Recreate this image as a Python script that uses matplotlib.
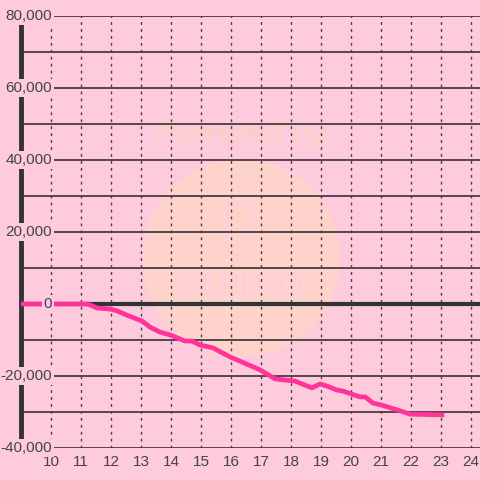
import matplotlib
matplotlib.use("Agg")
import matplotlib.pyplot as plt
import matplotlib.patches as patches
import matplotlib.transforms as mtransforms
import numpy as np

# data
hours = [9.0, 11.23, 11.53, 11.97, 12.2, 12.53, 12.87, 13.03, 13.3, 13.63, 13.97,
         14.47, 14.7, 14.97, 15.4, 15.97, 16.97, 17.47, 18.13, 18.7, 18.97,
         19.2, 19.53, 19.73, 20.3, 20.47, 20.73, 21.03, 21.53, 21.97, 23.03]
values = [0, 0, -1100, -1400, -1900, -3100, -4200, -4700, -6400, -7800, -8600,
          -10300, -10300, -11400, -12200, -14700, -18300, -20800, -21400, -23300, -22200,
          -22800, -23900, -24200, -25800, -25800, -27500, -28100, -29400, -30600, -30800]
x_ticks = list(range(10, 25))
y_ticks = [80000, 60000, 40000, 20000, 0, -20000, -40000]

bg = "#fecbdc"
dark = "#4a3a44"

fig = plt.figure(figsize=(4.8, 4.8), dpi=100, facecolor=bg)
ax = fig.add_axes([21/480, 1-448/480, 1-21/480, (448-16)/480])
ax.set_facecolor(bg)
ax.set_xlim(9, 24.3)
ax.set_ylim(-40000, 80000)

# watermark (behind grid)
circ = patches.Ellipse((241/480, 1-258/480), 198/480, 198/480, transform=fig.transFigure,
                       facecolor="#fdd3cc", edgecolor="none", zorder=0.5)
ax.add_patch(circ)
ax.text(242/480, 1-134/480, "Powered by", transform=fig.transFigure, ha="center",
        va="center", fontsize=22, fontweight="bold", style="italic",
        color="#f9cfca", zorder=0.6, family="Liberation Sans")
ax.text(242/480, 1-288/480, "PAPIMO", transform=fig.transFigure, ha="center",
        va="center", fontsize=24, color="#fccfd8", zorder=0.6, family="DejaVu Sans")
ax.add_patch(patches.FancyBboxPatch((228/480, 1-254/480), 25/480, 50/480,
             boxstyle="round,pad=0.003", transform=fig.transFigure,
             facecolor="none", edgecolor="#fccfd8", lw=1.5, zorder=0.6))

# grid
for yv in range(-40000, 80001, 10000):
    if yv == 0:
        continue
    ax.axhline(yv, color=dark, lw=1.3, zorder=1)
for xv in x_ticks:
    ax.axvline(xv, color=dark, lw=1.0, ls=(0, (2, 3)), zorder=1)
ax.axhline(0, color="#333333", lw=3, zorder=2)

ax.plot(hours, values, color="#ff3399", lw=3.4, zorder=3, solid_joinstyle="round")

for s in ["top", "right", "bottom"]:
    ax.spines[s].set_visible(False)
ax.spines["left"].set_color("#333333")
ax.spines["left"].set_linewidth(3.5)
ax.spines["left"].set_zorder(2)

ax.set_xticks([])
ax.set_yticks([])

trans = mtransforms.blended_transform_factory(fig.transFigure, ax.transData)
for yv in y_ticks:
    ax.text(52/480, yv, f"{yv:,}", transform=trans, ha="right", va="center",
            fontsize=11, color="#444444", family="Liberation Sans", zorder=5,
            bbox=dict(boxstyle="square,pad=0.1", facecolor=bg, edgecolor="none"),
            clip_on=False)

transx = mtransforms.blended_transform_factory(ax.transData, fig.transFigure)
for xv in x_ticks:
    ax.text(xv, 1-462/480, str(xv), transform=transx, ha="center", va="center",
            fontsize=11, color="#444444", family="Liberation Sans", clip_on=False)

fig.savefig("out.png", dpi=100, facecolor=bg)
